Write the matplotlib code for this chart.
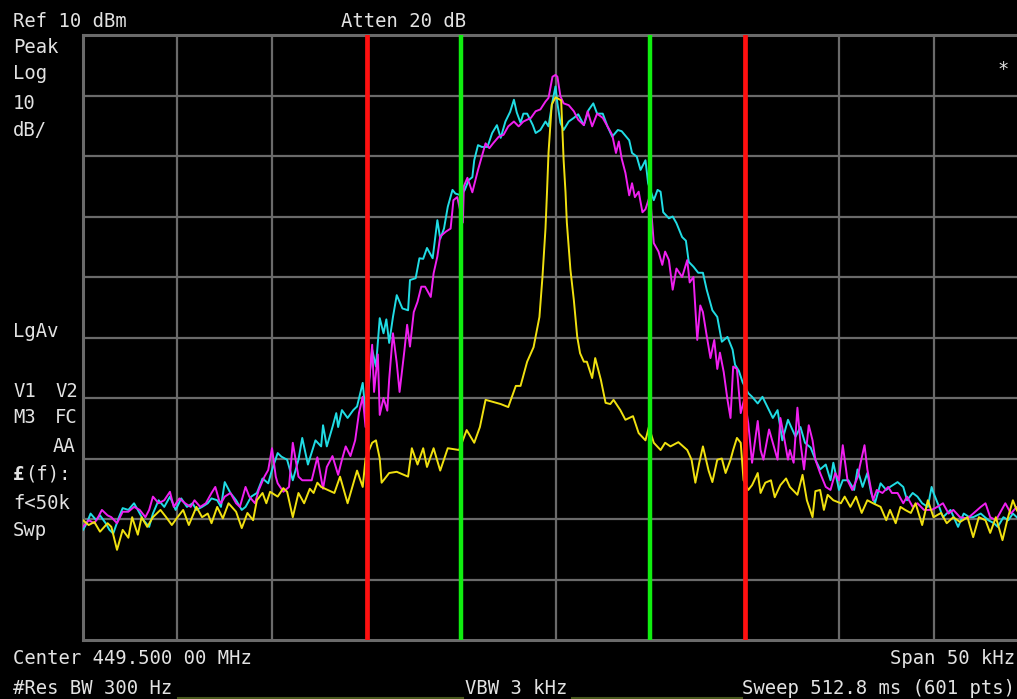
import matplotlib
matplotlib.use("Agg")
import matplotlib.pyplot as plt
from matplotlib.lines import Line2D

W, H = 1017, 699

# ---------------- data (kHz offset from center, dBm) ----------------
yellow_khz = [-25.0, -24.7, -24.4, -24.1, -23.7, -23.5, -23.2, -22.9, -22.6, -22.4, -22.1, -21.9,
              -21.6, -21.3, -20.9, -20.6, -20.3, -20.0, -19.7, -19.4, -19.0, -18.7, -18.4, -18.2,
              -17.9, -17.6, -17.3, -16.9, -16.6, -16.3, -16.0, -15.8, -15.5, -15.3, -15.1, -14.7,
              -14.4, -14.2, -13.9, -13.6, -13.3, -13.0, -12.8, -12.6, -12.4, -11.7, -11.4, -11.0,
              -10.5, -10.2, -10.05, -9.7, -9.5, -9.3, -9.2, -8.8, -8.4, -7.8, -7.6, -7.3, -7.0,
              -6.8, -6.45, -6.1, -5.7, -5.1, -4.7, -4.3, -4.0, -3.7, -2.9, -2.5, -2.1, -1.85, -1.5,
              -1.16, -0.85, -0.69, -0.63, -0.53, -0.45, -0.37, -0.2, 0.0, 0.3, 0.43, 0.53, 0.6,
              0.79, 0.97, 1.15, 1.3, 1.5, 1.66, 1.94, 2.1, 2.4, 2.65, 2.9, 3.07, 3.43, 3.7, 4.1,
              4.4, 4.76, 4.94, 5.2, 5.56, 5.8, 6.08, 6.5, 6.97, 7.2, 7.4, 7.6, 7.8, 8.1, 8.3, 8.56,
              8.8, 9.0, 9.26, 9.4, 9.6, 9.8, 9.95, 10.2, 10.4, 10.7, 10.85, 11.1, 11.4, 11.6, 11.9,
              12.2, 12.4, 12.8, 13.07, 13.3, 13.6, 13.75, 14.0, 14.2, 14.4, 14.7, 15.1, 15.3, 15.6,
              15.9, 16.2, 16.5, 16.8, 17.2, 17.5, 17.7, 18.0, 18.25, 18.5, 18.8, 19.05, 19.4, 19.7,
              20.0, 20.4, 20.7, 21.05, 21.4, 21.8, 22.1, 22.4, 22.75, 23.0, 23.3, 23.65, 23.9, 24.2,
              24.4, 24.7, 25.0]
yellow_dbm = [-70.2, -71.0, -70.5, -72.1, -70.7, -71.3, -75.1, -71.8, -73.1, -69.7, -72.6, -69.7,
              -71.3, -69.7, -68.5, -69.7, -71.0, -69.7, -68.5, -71.0, -68.0, -69.7, -69.1, -70.7,
              -68.0, -69.9, -67.4, -68.8, -71.5, -69.0, -70.2, -66.9, -65.7, -67.4, -65.5, -66.3,
              -64.9, -65.5, -69.7, -65.7, -67.4, -65.0, -65.7, -64.0, -64.7, -65.7, -63.0, -67.4,
              -62.0, -64.7, -60.0, -57.4, -57.0, -60.0, -64.0, -62.4, -62.2, -63.0, -58.3, -61.0, -58.3,
              -61.4, -58.3, -62.0, -58.3, -58.6, -55.3, -57.4, -54.8, -50.3, -51.0, -51.5, -48.0, -48.0, -44.0,
              -41.6, -36.6, -30.0, -27.0, -22.0, -16.0, -9.5, -1.5, -0.3, -0.8, -10.7, -16.0, -21.0,
              -28.8, -33.8, -39.9, -42.6, -44.0, -44.0, -46.7, -43.4, -47.0, -50.8, -51.0, -50.3, -52.0, -53.6, -53.0,
              -55.8, -57.0, -54.8, -57.4, -58.6, -57.4, -58.0, -57.3, -58.6, -60.2, -64.0, -60.8, -58.0, -62.0, -63.9, -60.2,
              -60.0, -62.4, -60.2, -58.6, -56.6, -57.4, -63.6, -65.2, -64.4, -62.4, -65.7, -64.0, -63.6, -66.4, -64.4,
              -63.3, -64.7, -66.0, -62.7, -66.9, -69.7, -65.4, -65.2, -68.5, -66.0, -66.9, -67.4, -66.3, -68.0,
              -66.3, -69.0, -66.9, -67.4, -68.0, -70.2, -68.5, -70.7, -68.0, -68.5, -69.0, -67.4, -71.0, -66.9,
              -69.7, -69.0, -70.7, -69.7, -70.5, -69.7, -73.0, -69.7, -70.2, -72.3, -69.7, -73.5, -70.2, -66.9,
              -68.5, -70.0, -69.0]

cyan_khz = [-25.0, -24.8, -24.6, -24.3, -24.1, -23.8, -23.6, -23.4, -23.1, -22.9, -22.6, -22.3,
            -22.1, -21.8, -21.5, -21.3, -21.0, -20.7, -20.4, -20.1, -19.8, -19.5, -19.2, -19.0,
            -18.7, -18.4, -18.2, -17.9, -17.7, -17.5, -17.2, -16.9, -16.6, -16.4, -16.1, -15.8,
            -15.5, -15.2, -15.0, -14.7, -14.5, -14.2, -13.9, -13.6, -13.4, -13.1, -12.9, -12.7,
            -12.4, -12.3, -12.1, -11.8, -11.6, -11.5, -11.3, -11.0, -10.7, -10.5, -10.2, -10.05,
            -9.7, -9.5, -9.3, -9.1, -8.95, -8.8, -8.6, -8.4, -8.1, -7.8, -7.7, -7.4, -7.2, -7.0,
            -6.8, -6.5, -6.25, -6.1, -5.9, -5.7, -5.45, -5.3, -5.0, -4.8, -4.6, -4.4, -4.3, -4.1,
            -3.9, -3.6, -3.35, -3.1, -2.9, -2.65, -2.4, -2.2, -2.05, -1.85, -1.7, -1.5, -1.2, -1.05,
            -0.8, -0.53, -0.37, -0.16, 0.0, 0.1, 0.26, 0.43, 0.7, 0.97, 1.2, 1.5, 1.75, 2.0, 2.2,
            2.5, 2.75, 3.0, 3.3, 3.5, 3.9, 4.05, 4.3, 4.5, 4.76, 4.9, 5.2, 5.4, 5.56, 5.7, 6.0,
            6.2, 6.4, 6.7, 6.9, 7.05, 7.3, 7.55, 7.8, 8.0, 8.3, 8.56, 8.8, 9.1, 9.37, 9.5, 9.7,
            9.9, 10.2, 10.4, 10.7, 10.95, 11.2, 11.5, 11.75, 12.0, 12.3, 12.5, 12.7, 12.96, 13.2,
            13.5, 13.75, 14.0, 14.3, 14.55, 14.7, 15.0, 15.2, 15.5, 15.8, 15.98, 16.25, 16.5, 16.7,
            16.9, 17.2, 17.5, 17.7, 18.1, 18.4, 18.6, 18.9, 19.15, 19.4, 19.7, 19.9, 20.0, 20.3,
            20.5, 20.9, 21.3, 21.6, 21.9, 22.1, 22.5, 22.9, 23.2, 23.4, 23.7, 23.96, 24.2, 24.4,
            24.7, 25.0]
cyan_dbm = [-71.8, -70.7, -69.1, -70.2, -69.4, -70.7, -71.8, -72.4, -69.7, -68.2, -68.5, -67.4,
            -68.5, -70.2, -71.3, -69.1, -66.9, -68.0, -66.3, -68.5, -66.6, -68.0, -67.4, -68.5,
            -68.0, -67.4, -66.6, -66.9, -68.0, -63.9, -65.7, -66.9, -68.5, -68.0, -66.3, -65.7,
            -63.3, -64.1, -61.9, -59.1, -59.7, -60.2, -63.6, -60.2, -56.6, -61.0, -59.0, -57.0,
            -58.0, -54.5, -58.0, -54.8, -52.5, -54.8, -52.0, -53.3, -52.0, -51.4, -47.5, -52.5,
            -42.0, -44.8, -36.8, -39.3, -37.0, -40.9, -36.6, -33.0, -35.2, -35.5, -30.5, -30.2, -26.9, -27.0,
            -25.2, -26.9, -20.6, -23.7, -22.0, -18.4, -15.6, -16.2, -16.5, -15.6, -14.0, -13.5, -10.7, -8.2,
            -8.5, -8.5, -6.2, -4.9, -7.0, -4.3, -2.7, -0.7, -2.8, -4.5, -3.0, -3.0, -4.9, -6.2,
            -5.7, -4.3, -5.1, -1.0, 1.5, -1.3, -4.5, -5.7, -4.3, -3.7, -3.1, -4.9, -2.4, -1.3, -3.0,
            -3.0, -5.1, -6.8, -5.7, -5.9, -7.4, -9.5, -10.1, -12.3, -10.7, -14.5, -17.3, -15.6, -15.9, -19.3, -20.3,
            -20.0, -21.1, -23.4, -24.0, -27.5, -28.3, -29.3, -29.3, -32.1, -35.5, -36.6, -40.7, -39.9, -42.0, -44.5, -45.5,
            -47.4, -49.2, -49.8, -50.9, -49.8, -51.4, -53.3, -52.0, -57.0, -53.6, -55.0, -56.4, -54.8, -57.4,
            -58.2, -60.2, -61.8, -61.0, -63.6, -60.7, -65.2, -63.6, -63.6, -65.2, -61.8, -64.7, -62.4, -65.7,
            -67.4, -64.1, -65.2, -64.7, -63.9, -64.7, -66.9, -65.7, -66.3, -67.4, -68.0, -64.7, -65.7, -68.0,
            -69.7, -68.5, -71.3, -69.1, -69.7, -69.7, -69.1, -70.2, -70.7, -71.3, -69.7, -70.2, -69.1, -69.7,
            -70.5, -69.5]

magenta_khz = [-25.0, -24.7, -24.4, -24.2, -24.0, -23.7, -23.5, -23.2, -22.9, -22.6, -22.3, -22.0,
               -21.7, -21.5, -21.3, -21.0, -20.7, -20.4, -20.2, -19.9, -19.6, -19.3, -19.1, -18.8,
               -18.5, -18.2, -18.0, -17.8, -17.7, -17.5, -17.2, -16.9, -16.7, -16.4, -16.2, -15.9,
               -15.7, -15.4, -15.2, -15.0, -14.8, -14.7, -14.4, -14.1, -13.9, -13.6, -13.4, -13.1,
               -12.9, -12.6, -12.3, -12.1, -11.8, -11.5, -11.3, -11.1, -10.85, -10.6, -10.4, -10.2,
               -10.05, -9.7, -9.6, -9.4, -9.3, -9.1, -8.9, -8.8, -8.6, -8.4, -8.25, -8.0, -7.85, -7.7,
               -7.5, -7.3, -7.1, -6.9, -6.6, -6.45, -6.25, -6.1, -5.8, -5.55, -5.4, -5.2, -4.9, -4.85,
               -4.66, -4.4, -4.1, -3.9, -3.7, -3.5, -3.3, -3.0, -2.75, -2.5, -2.2, -1.95, -1.7, -1.3,
               -1.05, -0.8, -0.53, -0.37, -0.16, 0.0, 0.1, 0.26, 0.43, 0.7, 0.97, 1.2, 1.5, 1.7, 1.94,
               2.2, 2.5, 2.75, 3.0, 3.2, 3.35, 3.5, 3.7, 3.9, 4.05, 4.2, 4.4, 4.6, 4.76, 5.0, 5.2,
               5.45, 5.65, 5.8, 6.0, 6.2, 6.4, 6.7, 6.97, 7.1, 7.3, 7.5, 7.66, 7.8, 8.0, 8.2, 8.4,
               8.56, 8.7, 8.9, 9.1, 9.26, 9.4, 9.6, 9.8, 10.0, 10.2, 10.4, 10.7, 10.85, 11.0, 11.3,
               11.5, 11.75, 11.9, 12.1, 12.3, 12.4, 12.6, 12.8, 12.96, 13.15, 13.4, 13.6, 13.75, 14.0,
               14.3, 14.55, 14.8, 15.0, 15.2, 15.45, 15.7, 16.0, 16.1, 16.35, 16.5, 16.8, 17.0, 17.3,
               17.6, 17.8, 18.1, 18.4, 18.6, 18.9, 19.15, 19.5, 19.9, 20.2, 20.5, 20.8, 21.05, 21.4,
               21.8, 22.1, 22.5, 22.75, 23.0, 23.3, 23.5, 23.8, 24.1, 24.4, 24.7, 25.0]
magenta_dbm = [-71.3, -70.2, -70.7, -69.7, -68.5, -69.4, -69.7, -70.7, -68.8, -68.8, -68.0, -68.5,
               -69.7, -68.5, -66.3, -67.4, -66.9, -65.5, -68.0, -66.6, -67.4, -68.0, -66.9, -68.0,
               -67.4, -65.7, -64.7, -66.9, -67.4, -66.3, -65.7, -67.4, -68.0, -64.7, -66.3, -67.4,
               -65.2, -63.0, -61.9, -58.3, -63.0, -64.1, -65.5, -64.7, -57.4, -63.0, -63.6, -63.6,
               -63.6, -59.8, -65.0, -61.4, -59.6, -62.7, -60.2, -58.0, -59.6, -57.0, -52.5, -49.8,
               -54.8, -41.2, -49.0, -42.8, -52.8, -50.0, -52.1, -46.9, -39.3, -44.2, -49.0, -42.3, -37.9, -41.5,
               -35.8, -34.1, -31.6, -31.6, -33.3, -29.4, -26.6, -23.3, -22.5, -22.0, -17.3, -16.8, -21.0, -15.0,
               -13.6, -16.0, -12.3, -10.1, -7.9, -8.7, -7.9, -6.8, -6.5, -5.1, -4.3, -5.1, -4.3, -3.7,
               -2.6, -2.3, -1.0, -0.4, 3.1, 3.4, 3.1, -0.1, -1.3, -1.6, -2.6, -4.0, -4.9, -2.6, -5.1,
               -3.0, -3.7, -5.1, -6.5, -9.5, -7.6, -10.4, -12.8, -16.5, -14.5, -16.8, -15.9, -19.3, -18.8, -16.5, -24.4,
               -25.8, -28.0, -25.8, -27.2, -32.1, -28.6, -30.0, -27.2, -30.9, -30.0, -40.4, -34.7, -35.8, -39.7, -43.4, -40.4,
               -45.2, -42.5, -45.7, -50.3, -53.3, -44.8, -45.2, -52.5, -50.0, -54.2, -60.7, -53.8, -58.6, -60.2, -55.2,
               -57.4, -60.2, -53.3, -56.6, -60.2, -58.6, -60.7, -51.6, -57.4, -61.8, -54.5, -57.0, -60.2, -62.4,
               -64.7, -65.2, -62.4, -63.6, -57.8, -63.6, -65.2, -63.0, -61.3, -57.8, -61.8, -66.9, -65.2, -65.7,
               -64.7, -65.7, -65.7, -67.4, -66.3, -68.0, -67.4, -68.5, -68.5, -68.0, -67.4, -69.1, -68.5, -69.7,
               -69.9, -69.1, -68.0, -67.4, -69.7, -70.2, -69.1, -67.4, -69.1, -68.0, -69.5, -70.0]

markers_red_khz = [-10.0, 10.0]
markers_green_khz = [-5.0, 5.0]

ref_level = 10.0
db_per_div = 10.0
span_khz = 50.0

# ---------------- figure ----------------
fig = plt.figure(figsize=(W / 100, H / 100), dpi=100, facecolor="black")
left_px, right_px, top_px, bottom_px = 83, 1028, 35, 640
ax = fig.add_axes([left_px / W, 1 - bottom_px / H, (right_px - left_px) / W, (bottom_px - top_px) / H])
ax.set_facecolor("black")
ax.set_xlim(-span_khz / 2, span_khz / 2)
ax.set_ylim(ref_level - 10 * db_per_div, ref_level)

grid_c = "#6a6a6a"
for k in range(1, 10):
    ax.axvline(-span_khz / 2 + k * span_khz / 10, color=grid_c, lw=1.6, zorder=1)
    ax.axhline(ref_level - k * db_per_div, color=grid_c, lw=1.6, zorder=1)
for s in ax.spines.values():
    s.set_color(grid_c)
    s.set_linewidth(2.2)
ax.set_xticks([])
ax.set_yticks([])

ax.plot(cyan_khz, cyan_dbm, color="#20dce4", lw=1.4, zorder=3)
ax.plot(magenta_khz, magenta_dbm, color="#f020f0", lw=1.4, zorder=4)
ax.plot(yellow_khz, yellow_dbm, color="#f0e010", lw=1.4, zorder=5)

for f in markers_red_khz:
    ax.axvline(f, color="#ff1010", lw=3.4, zorder=6)
for f in markers_green_khz:
    ax.axvline(f, color="#10ee10", lw=3.2, zorder=6)

# ---------------- annotations ----------------
tc = "#e2e2e2"
FS = 13.6
mono = "DejaVu Sans Mono"


def txt(x, y, s, ha="left", weight="normal"):
    fig.text(x / W, 1 - y / H, s, color=tc, fontsize=FS, family=mono, ha=ha, va="baseline",
             weight=weight)


txt(13, 27, "Ref 10 dBm")
txt(341, 27, "Atten 20 dB")
txt(13, 53, "Peak")
txt(13, 79, "Log")
txt(13, 109, "10")
txt(13, 136, "dB/")
txt(13, 337, "LgAv")
txt(13, 397, "V1")
txt(55, 397, "V2")
txt(13, 423, "M3")
txt(55, 423, "FC")
txt(53, 452, "AA")
fig.text(13 / W, 1 - 480 / H, "£", color=tc, fontsize=FS, family=mono, weight="bold", va="baseline")
txt(25, 480, "(f):")
txt(13, 509, "f<50k")
txt(13, 536, "Swp")
fig.text(1003 / W, 1 - 70 / H, "*", color=tc, fontsize=FS, family=mono, ha="center", va="center")

txt(13, 664, "Center 449.500 00 MHz")
txt(1015, 664, "Span 50 kHz", ha="right")
txt(13, 694, "#Res BW 300 Hz")
txt(465, 694, "VBW 3 kHz")
txt(1015, 694, "Sweep 512.8 ms (601 pts)", ha="right")

for x0, x1 in [(178, 463), (572, 742)]:
    fig.add_artist(Line2D([x0 / W, x1 / W], [1 - 698 / H, 1 - 698 / H], color="#4a5a1e", lw=1.5))

fig.savefig("out.png", dpi=100, facecolor="black")
